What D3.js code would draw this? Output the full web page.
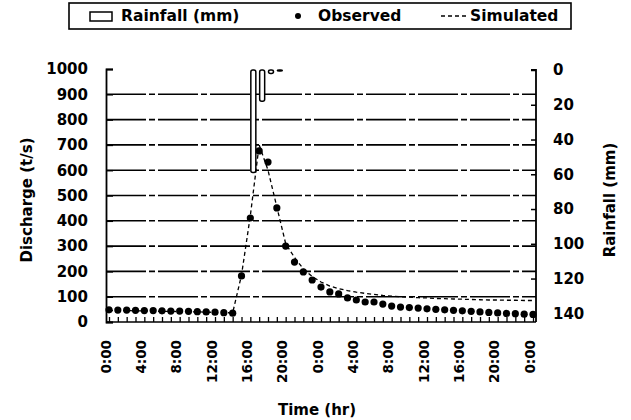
<!DOCTYPE html>
<html>
<head>
<meta charset="utf-8">
<script src="https://cdn.jsdelivr.net/npm/d3@7"></script>
<style>
  body { margin: 0; background: #fff; }
  svg text { font-family: "DejaVu Sans", sans-serif; font-weight: bold; fill: #000; }
</style>
</head>
<body>
<svg id="chart" width="631" height="420"></svg>
<script>
// hourly series, hour 0 .. 48
const hours = d3.range(0, 49)
const observed = [48, 47, 47, 46, 45, 45, 44, 43, 43, 42, 41, 40, 39, 37, 35,
  182, 411, 676, 632, 451, 300, 237, 198, 166, 138, 119, 111, 95, 87, 79, 79, 71, 63, 59,
  57, 55, 52, 50, 48, 46, 44, 42, 40, 38, 36, 34, 33, 31, 30]
const simulated = [46, 45, 45, 44, 44, 43, 42, 42, 41, 40, 40, 39, 38, 37, 36,
  185, 420, 700, 600, 455, 310, 255, 210, 180, 158, 142, 132, 124, 118, 113, 109, 105, 102,
  100, 98, 96, 95, 93, 92, 91, 90, 89, 88, 87, 87, 86, 86, 85, 85]
const rainHours = [16, 17, 18, 19]
const rainfall = [59, 18, 2, 0.6]

const dischargeTicks = d3.range(0, 1001, 100)
const rainTicks = d3.range(0, 141, 20)
const timeLabels = ['0:00', '4:00', '8:00', '12:00', '16:00', '20:00', '0:00',
  '4:00', '8:00', '12:00', '16:00', '20:00', '0:00']

const L = 106, R = 536, T = 69, B = 322

const svg = d3.select('#chart')

const x = d3.scaleLinear().domain([0, 48]).range([109, 533])
const y = d3.scaleLinear().domain([0, 1000]).range([B, T])
const yR = d3.scaleLinear().domain([0, 145]).range([70, B])

// gridlines
svg.append('g')
  .selectAll('line')
  .data(dischargeTicks.filter(d => d > 0 && d < 1000))
  .join('line')
    .attr('x1', L).attr('x2', R)
    .attr('y1', d => y(d)).attr('y2', d => y(d))
    .attr('stroke', '#000').attr('stroke-width', 1.6)
    .attr('stroke-dasharray', '40,3,6,3')

// left axis
const gl = svg.append('g')
  .attr('transform', `translate(${L},0)`)
  .call(d3.axisLeft(y).tickValues(dischargeTicks).tickFormat(d3.format('d'))
    .tickSize(-7).tickPadding(18))
gl.select('.domain').attr('stroke-width', 1.8)
gl.selectAll('.tick line').attr('stroke-width', 1.5)
gl.selectAll('.tick text').attr('font-size', 15)

// right axis
const gr = svg.append('g')
  .attr('transform', `translate(${R},0)`)
  .call(d3.axisRight(yR).tickValues(rainTicks).tickSize(-5).tickPadding(17))
gr.select('.domain').attr('stroke-width', 1.8).attr('d', `M-5,70H0V${B}`)
gr.selectAll('.tick line').attr('stroke-width', 1.5)
gr.selectAll('.tick text').attr('font-size', 15)

// bottom axis, hourly ticks inside
const gb = svg.append('g')
  .attr('transform', `translate(0,${B})`)
  .call(d3.axisBottom(x).tickValues(hours).tickSize(-5).tickFormat(''))
gb.select('.domain').attr('stroke-width', 1.6).attr('d', `M${L},0H${R}`)
gb.selectAll('.tick line').attr('stroke-width', 1.3)

// time labels
svg.append('g')
  .selectAll('text')
  .data(timeLabels)
  .join('text')
    .attr('transform', (d, i) => `translate(${x(i * 4) - 3},340) rotate(-90)`)
    .attr('text-anchor', 'end')
    .attr('dy', '0.35em')
    .attr('font-size', 13.5)
    .text(d => d)

// rainfall bars, hanging from the top
svg.append('g')
  .selectAll('rect')
  .data(rainfall)
  .join('rect')
    .attr('x', (d, i) => x(rainHours[i]) + 0.5)
    .attr('y', yR(0))
    .attr('width', 5)
    .attr('height', d => yR(d) - yR(0))
    .attr('rx', 2)
    .attr('fill', '#fff').attr('stroke', '#000').attr('stroke-width', 1.5)

// simulated line
svg.append('path')
  .datum(simulated)
  .attr('fill', 'none')
  .attr('stroke', '#000').attr('stroke-width', 1.3)
  .attr('stroke-dasharray', '4,3')
  .attr('d', d3.line().x((d, i) => x(hours[i])).y(d => y(d)))

// observed dots
svg.append('g')
  .selectAll('circle')
  .data(observed)
  .join('circle')
    .attr('cx', (d, i) => x(hours[i]))
    .attr('cy', d => y(d))
    .attr('r', 3.6)
    .attr('fill', '#000')

// axis titles
svg.append('text')
  .attr('transform', 'translate(27,200) rotate(-90)')
  .attr('text-anchor', 'middle').attr('dy', '0.35em')
  .attr('font-size', 15)
  .text('Discharge (t/s)')
svg.append('text')
  .attr('transform', 'translate(610,200) rotate(-90)')
  .attr('text-anchor', 'middle').attr('dy', '0.35em')
  .attr('font-size', 15)
  .text('Rainfall (mm)')
svg.append('text')
  .attr('x', 317).attr('y', 410)
  .attr('text-anchor', 'middle').attr('dy', '0.35em')
  .attr('font-size', 15)
  .text('Time (hr)')

// legend
const lg = svg.append('g')
const ly = 16
lg.append('rect')
  .attr('x', 69).attr('y', 3).attr('width', 502).attr('height', 26)
  .attr('fill', '#fff').attr('stroke', '#000').attr('stroke-width', 1.6)
lg.append('rect')
  .attr('x', 90).attr('y', ly - 4).attr('width', 22).attr('height', 9)
  .attr('fill', '#fff').attr('stroke', '#000').attr('stroke-width', 1.5)
lg.append('text').attr('x', 121).attr('y', ly).attr('dy', '0.35em')
  .attr('font-size', 15.5).text('Rainfall (mm)')
lg.append('circle').attr('cx', 298).attr('cy', ly).attr('r', 3).attr('fill', '#000')
lg.append('text').attr('x', 318).attr('y', ly).attr('dy', '0.35em')
  .attr('font-size', 15.5).text('Observed')
lg.append('line')
  .attr('x1', 441).attr('x2', 466).attr('y1', ly).attr('y2', ly)
  .attr('stroke', '#000').attr('stroke-width', 1.3).attr('stroke-dasharray', '4,3')
lg.append('text').attr('x', 470).attr('y', ly).attr('dy', '0.35em')
  .attr('font-size', 15.5).text('Simulated')
</script>
</body>
</html>
